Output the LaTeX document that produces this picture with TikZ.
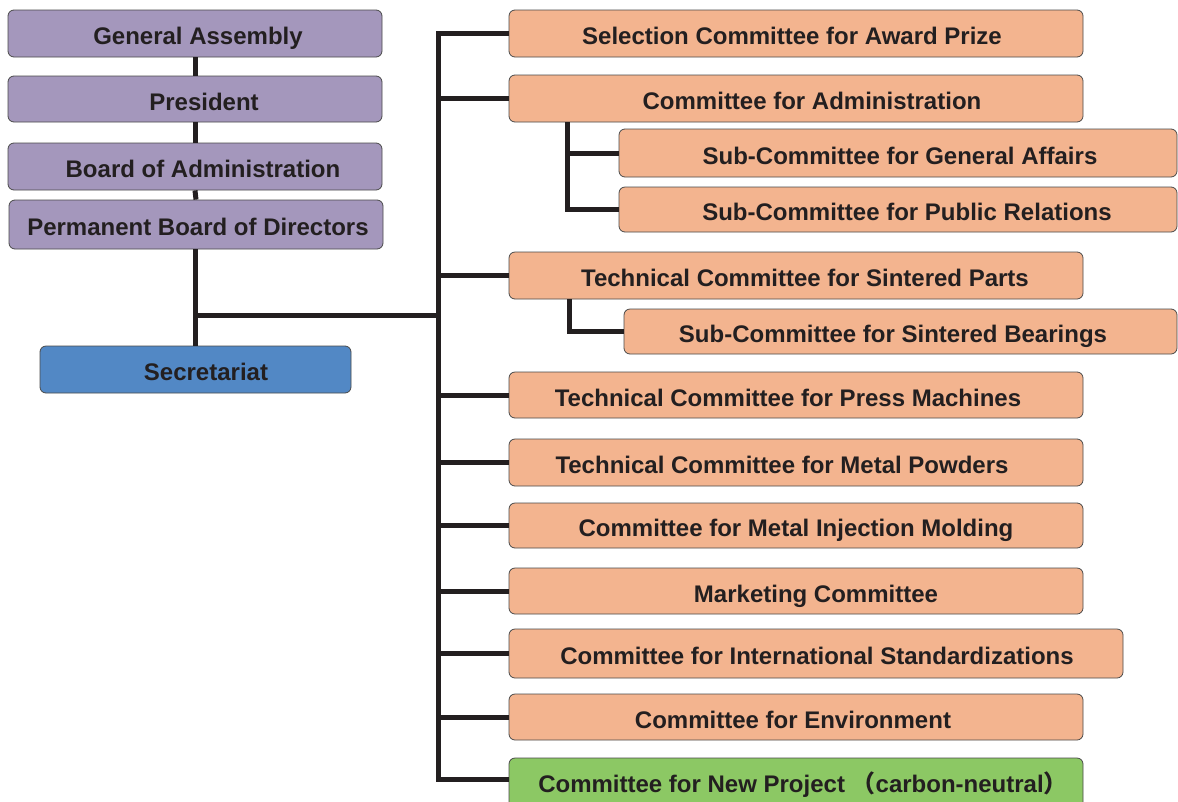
\documentclass[tikz,border=0pt]{standalone}
\usepackage{fontspec}
\setmainfont{Liberation Sans}
\newfontfamily\cjk{Noto Sans CJK SC}
\definecolor{purp}{HTML}{A497BC}
\definecolor{orng}{HTML}{F3B48F}
\definecolor{blu}{HTML}{5288C5}
\definecolor{grn}{HTML}{8CC864}
\definecolor{ink}{HTML}{231F20}
\definecolor{boxline}{HTML}{4A4A4A}
\tikzset{
  boxbase/.style={draw=boxline, line width=0.8pt, rounded corners=6pt, inner sep=0pt},
  pbox/.style={boxbase, fill=purp},
  obox/.style={boxbase, fill=orng},
  bbox/.style={boxbase, fill=blu},
  gbox/.style={boxbase, fill=grn},
  txt/.style={font=\bfseries\fontsize{24}{28}\selectfont, text=ink, inner sep=0pt, text height=22pt, text depth=0pt},
  conn/.style={draw=ink, line width=5pt}
}
\begin{document}
\begin{tikzpicture}[x=1pt,y=-1pt]
\useasboundingbox (0,0) rectangle (1178,801);
\clip (0,0) rectangle (1178,801);
\fill[white] (0,0) rectangle (1178,801);

% left column boxes
\node[pbox, minimum width=374pt, minimum height=47pt] (ga) at (195,33.5) {};
\node[pbox, minimum width=374pt, minimum height=46pt] (pres) at (195,99) {};
\node[pbox, minimum width=374pt, minimum height=47pt] (board) at (195,166.5) {};
\node[pbox, minimum width=374pt, minimum height=49pt] (perm) at (196,224.5) {};
\node[bbox, minimum width=311pt, minimum height=47pt] (sec) at (195.5,369.5) {};

% right column boxes
\node[obox, minimum width=574pt, minimum height=47pt] (sel) at (796,33.5) {};
\node[obox, minimum width=574pt, minimum height=47pt] (adm) at (796,98.5) {};
\node[obox, minimum width=558pt, minimum height=48pt] (gaf) at (898,153) {};
\node[obox, minimum width=558pt, minimum height=45pt] (pr) at (898,209.5) {};
\node[obox, minimum width=574pt, minimum height=47pt] (tsp) at (796,275.5) {};
\node[obox, minimum width=553pt, minimum height=45pt] (bear) at (900.5,331.5) {};
\node[obox, minimum width=574pt, minimum height=46pt] (press) at (796,395) {};
\node[obox, minimum width=574pt, minimum height=47pt] (metal) at (796,462.5) {};
\node[obox, minimum width=574pt, minimum height=45pt] (mim) at (796,525.5) {};
\node[obox, minimum width=574pt, minimum height=46pt] (mkt) at (796,591) {};
\node[obox, minimum width=614pt, minimum height=49pt] (intl) at (816,653.5) {};
\node[obox, minimum width=574pt, minimum height=46pt] (env) at (796,717) {};
\node[gbox, minimum width=574pt, minimum height=52pt] (newp) at (796,784) {};

% texts
\node[txt] (gaT) at (198,33.5) {General Assembly};
\node[txt] (presT) at (204,99) {President};
\node[txt] (boardT) at (203,166.5) {Board of Administration};
\node[txt] (permT) at (198,224.5) {Permanent Board of Directors};
\node[txt] (secT) at (206,369.5) {Secretariat};
\node[txt] (selT) at (792,33.5) {Selection Committee for Award Prize};
\node[txt] (admT) at (812,98.5) {Committee for Administration};
\node[txt] (gafT) at (900,153) {Sub-Committee for General Affairs};
\node[txt] (prT) at (907,209.5) {Sub-Committee for Public Relations};
\node[txt] (tspT) at (805,275.5) {Technical Committee for Sintered Parts};
\node[txt] (bearT) at (893,331.5) {Sub-Committee for Sintered Bearings};
\node[txt] (pressT) at (788,395) {Technical Committee for Press Machines};
\node[txt] (metalT) at (782,462.5) {Technical Committee for Metal Powders};
\node[txt] (mimT) at (796,525.5) {Committee for Metal Injection Molding};
\node[txt] (mktT) at (816,591) {Marketing Committee};
\node[txt] (intlT) at (817,653.5) {Committee for International Standardizations};
\node[txt] (envT) at (793,717) {Committee for Environment};
\node[txt] (newpT) at (803,781.5) {Committee for New Project {\cjk （}carbon-neutral{\cjk ）}};

% helper coordinates
\coordinate (bus) at (438,0);
\coordinate (jn) at (195,315);
\coordinate (sa) at (567,0);
\coordinate (sb) at (569,0);
\coordinate (nw) at ([yshift=5pt]newp.west);

% left chain
\draw[conn] (ga.south) -- (pres.north);
\draw[conn] (pres.south) -- (board.north);
\draw[conn] (board.south) -- (perm.north);
\draw[conn] (jn |- perm.south) -- (jn |- sec.north);
\draw[conn] (jn) -- (jn -| bus);

% main bus
\draw[conn] (sel.west) -- (sel.west -| bus) -- (nw -| bus) -- (nw);
\foreach \n in {adm,tsp,press,metal,mim,mkt,intl,env}
  \draw[conn] (\n.west -| bus) -- (\n.west);

% sub branches
\draw[conn] (sa |- adm.south) -- (sa |- pr.west) -- (pr.west);
\draw[conn] (sa |- gaf.west) -- (gaf.west);
\draw[conn] (sb |- tsp.south) -- (sb |- bear.west) -- (bear.west);
\end{tikzpicture}
\end{document}
